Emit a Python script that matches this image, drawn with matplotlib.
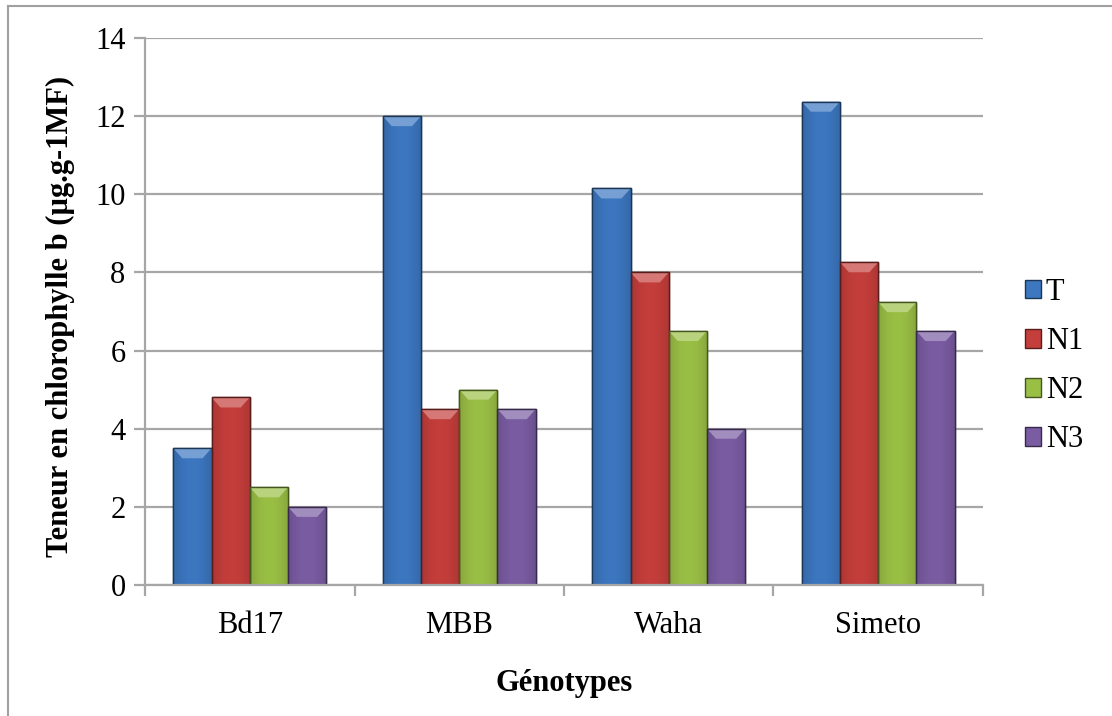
import numpy as np
import matplotlib
matplotlib.use("Agg")
import matplotlib.pyplot as plt
from matplotlib.lines import Line2D
from matplotlib.patches import Polygon, Rectangle
from matplotlib.colors import to_rgb

# ------------------------------------------------------------
# Data: chlorophyll b content per genotype and treatment
# ------------------------------------------------------------
genotypes = ["Bd17", "MBB", "Waha", "Simeto"]
treatments = ["T", "N1", "N2", "N3"]
val_T = [3.5, 12.0, 10.15, 12.37]
val_N1 = [4.8, 4.5, 8.0, 8.26]
val_N2 = [2.5, 5.0, 6.5, 7.24]
val_N3 = [2.0, 4.5, 4.0, 6.5]
series = [val_T, val_N1, val_N2, val_N3]
colors = ["#3C77C0", "#C43E3B", "#9ABF45", "#7A5CA3"]

plt.rcParams["font.family"] = ["Liberation Serif", "DejaVu Serif"]

W, H = 1112, 716
fig = plt.figure(figsize=(W / 100, H / 100), dpi=100)
ax = fig.add_axes([145 / W, 1 - 585 / H, (983 - 145) / W, (585 - 38) / H])

grid_col = "#A6A6A6"
fs = 22
ax.set_ylim(0, 14)
ax.set_xlim(-0.5, len(genotypes) - 0.5)
ax.set_yticks(np.arange(0, 15, 2))
ax.yaxis.grid(True, color=grid_col, linewidth=1.6)
ax.set_axisbelow(True)

n = len(series)
group_w = 0.73
bw = group_w / n
x = np.arange(len(genotypes))

# pixels per data unit, used for the bevel on top of each bar
fig.canvas.draw()
px_per_x = ax.transData.transform((1, 0))[0] - ax.transData.transform((0, 0))[0]
px_per_y = ax.transData.transform((0, 1))[1] - ax.transData.transform((0, 0))[1]
bev_x = 9 / px_per_x
bev_y = 10 / px_per_y


def shaded(c, t):
    r = np.array(to_rgb(c))
    if t >= 0:
        return r + (1 - r) * t
    return r * (1 + t)


for i, (vals, col) in enumerate(zip(series, colors)):
    xs = x - group_w / 2 + bw * (i + 0.5)
    bars = ax.bar(xs, vals, width=bw, color=col, edgecolor=shaded(col, -0.55),
                  linewidth=1.0, label=treatments[i], zorder=2)
    for b in bars:
        x0, w, h = b.get_x(), b.get_width(), b.get_height()
        # horizontal shading across the bar face
        prof = np.linspace(0, 1, 40)
        amt = 0.12 * np.sin(np.pi * prof) - 0.12
        grad = np.array([[shaded(col, a) for a in amt]])
        im = ax.imshow(grad, extent=(x0, x0 + w, 0, h), aspect="auto",
                       zorder=2.1, interpolation="bicubic")
        im.set_clip_path(b)
        # light bevel at the top edge
        ax.add_patch(Polygon([(x0, h), (x0 + w, h), (x0 + w - bev_x, h - bev_y),
                              (x0 + bev_x, h - bev_y)], closed=True,
                             facecolor=shaded(col, 0.3), edgecolor="none", zorder=2.2))
        ax.add_patch(Rectangle((x0, 0), w, h, fill=False,
                               edgecolor=shaded(col, -0.55), linewidth=1.0, zorder=2.3))

ax.set_xticks(x)
ax.set_xticklabels(genotypes, fontsize=fs)
ax.set_xticks(np.arange(-0.5, len(genotypes)), minor=True)
ax.tick_params(axis="x", which="major", length=0, pad=19)
ax.tick_params(axis="x", which="minor", length=8, width=1.6, color=grid_col, direction="out")
ax.tick_params(axis="y", length=8, width=1.6, color=grid_col, labelsize=fs, pad=6)

for s in ["top", "right"]:
    ax.spines[s].set_visible(False)
for s in ["left", "bottom"]:
    ax.spines[s].set_color(grid_col)
    ax.spines[s].set_linewidth(1.6)

fig.text(564 / W, 1 - 683 / H, "Génotypes", fontsize=fs, fontweight="bold",
         ha="center", va="center")
fig.text(60 / W, 1 - 316 / H, "Teneur en chlorophylle b (µg.g-1MF)", rotation=90,
         fontsize=fs, fontweight="bold", ha="center", va="center")

leg = ax.legend(loc="center left", bbox_to_anchor=(1.035, 0.40), frameon=False,
                fontsize=fs, handlelength=0.55, handleheight=0.55,
                handletextpad=0.15, labelspacing=0.66, borderaxespad=0)

# outer frame of the chart area
fig.add_artist(Line2D([8 / W, 8 / W], [0, 1 - 6 / H], color="#A0A0A0", linewidth=1.5))
fig.add_artist(Line2D([8 / W, 1], [1 - 6 / H, 1 - 6 / H], color="#A0A0A0", linewidth=1.5))

fig.savefig("out.png", dpi=100)
